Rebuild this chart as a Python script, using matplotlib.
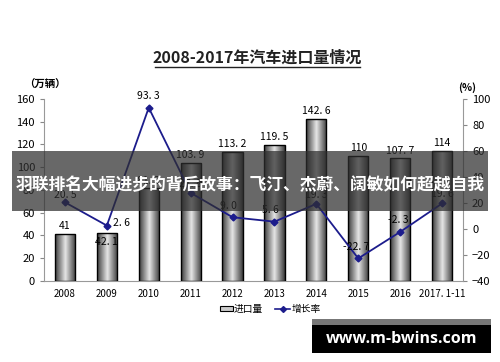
import numpy as np
import matplotlib
matplotlib.use('Agg')
import matplotlib.pyplot as plt
from matplotlib.patches import Rectangle
from matplotlib.lines import Line2D

plt.rcParams['font.family'] = ['Noto Sans CJK SC', 'DejaVu Sans']

# 数据
years = ['2008', '2009', '2010', '2011', '2012', '2013', '2014', '2015', '2016', '2017. 1-11']
volume = [41, 42.1, 81.3, 103.9, 113.2, 119.5, 142.6, 110, 107.7, 114]
growth = [20.5, 2.6, 93.3, 27.8, 9.0, 5.6, 19.3, -22.7, -2.3, 19.6]
vol_labels = ['41', '42. 1', '81. 3', '103. 9', '113. 2', '119. 5', '142. 6', '110', '107. 7', '114']
gr_labels = ['20. 5', '2. 6', '93. 3', '27. 8', '9. 0', '5. 6', '19. 3', '-22. 7', '-2. 3', '19. 6']

fig = plt.figure(figsize=(5, 3.62), dpi=100)
ax = fig.add_axes([0.088, 0.224, 0.838, 0.5025])
x = np.arange(len(years))

# 渐变柱
grad = np.abs(np.linspace(-1, 1, 64))
grad = np.vstack([grad] * 4)
bars = ax.bar(x, volume, width=0.48, color='none', edgecolor='black', linewidth=1.0, zorder=3)
for b in bars:
    bx, by = b.get_x(), b.get_y()
    im = ax.imshow(grad, cmap='gray_r', vmin=-0.15, vmax=1.35, aspect='auto',
                   extent=[bx, bx + b.get_width(), by, by + b.get_height()], zorder=2)
    im.set_clip_path(b)

ax.set_xlim(-0.5, 9.5)
ax.set_ylim(0, 160)
ax.set_yticks(range(0, 161, 20))
ax.set_xticks(x)
ax.set_xticklabels(years, fontsize=7)
ax.tick_params(axis='y', labelsize=8, length=3, color='#888888')
ax.tick_params(axis='x', length=0, pad=6)
for s in ['top', 'right']:
    ax.spines[s].set_visible(False)
ax.spines['left'].set_color('#999999')
ax.spines['bottom'].set_color('#999999')

# 柱标签
for i, v in enumerate(volume):
    if i == 1:
        ax.text(i, v - 8, vol_labels[i], ha='center', va='center', fontsize=7.5, zorder=5)
    else:
        ax.text(i, v + 7, vol_labels[i], ha='center', va='center', fontsize=7.5, zorder=5)

# 增长率
ax2 = ax.twinx()
ax2.plot(x, growth, color='#1c1c8c', lw=1.3, marker='D', ms=3.5, zorder=6)
ax2.set_ylim(-40, 100)
ax2.set_yticks(range(-40, 101, 20))
ax2.tick_params(axis='y', labelsize=8, length=3, color='#888888')
for s in ['top', 'left', 'bottom']:
    ax2.spines[s].set_visible(False)
ax2.spines['right'].set_color('#999999')
gr_off = [(0, 6), (0.35, 2), (0, 9), (0, 7), (-0.1, 9), (-0.1, 9), (0, 7), (-0.05, 9), (-0.05, 9), (0, 7)]
for i, g in enumerate(growth):
    dx, dy = gr_off[i]
    ax2.text(i + dx, g + dy, gr_labels[i], ha='center', va='center', fontsize=7.5, zorder=7)

# 标题与单位
fig.text(0.515, 0.842, '2008-2017年汽车进口量情况', ha='center', va='center',
         fontsize=11.5, fontweight='bold', color='#222222')
fig.add_artist(Line2D([0.31, 0.72], [0.815, 0.815], color='#222222', lw=1))
fig.text(0.09, 0.765, '（万辆）', ha='center', va='center', fontsize=7.5, fontweight='bold')
fig.text(0.935, 0.757, '(%)', ha='center', va='center', fontsize=7.5, fontweight='bold')

# 图例
fig.add_artist(Rectangle((0.44, 0.142), 0.026, 0.012, facecolor='#cccccc', edgecolor='black', lw=0.8))
fig.text(0.468, 0.147, '进口量', ha='left', va='center', fontsize=7)
fig.add_artist(Line2D([0.55, 0.565, 0.58], [0.147, 0.147, 0.147], color='#1c1c8c', lw=1.2,
                      marker='D', ms=3, markevery=[1]))
fig.text(0.583, 0.147, '增长率', ha='left', va='center', fontsize=7)

# 覆盖横幅
fig.add_artist(Rectangle((0.024, 0.417), 0.952, 0.166, facecolor='#2e2e2e', alpha=0.72,
                         edgecolor='none', zorder=10))
fig.text(0.5, 0.49, '羽联排名大幅进步的背后故事：飞汀、杰蔚、阔敏如何超越自我', ha='center',
         va='center', fontsize=12.1, fontweight='bold', color='white', zorder=11)

# 水印
fig.add_artist(Rectangle((0.624, 0.102), 0.358, 0.017, facecolor='#777777', edgecolor='none', zorder=10))
fig.add_artist(Rectangle((0.624, 0.025), 0.358, 0.077, facecolor='black', edgecolor='none', zorder=10))
fig.text(0.803, 0.064, 'www.m-bwins.com', ha='center', va='center', fontsize=11.5,
         fontweight='bold', color='white', family=['Open Sans', 'DejaVu Sans'], zorder=11)

fig.savefig('out.png', dpi=100)
